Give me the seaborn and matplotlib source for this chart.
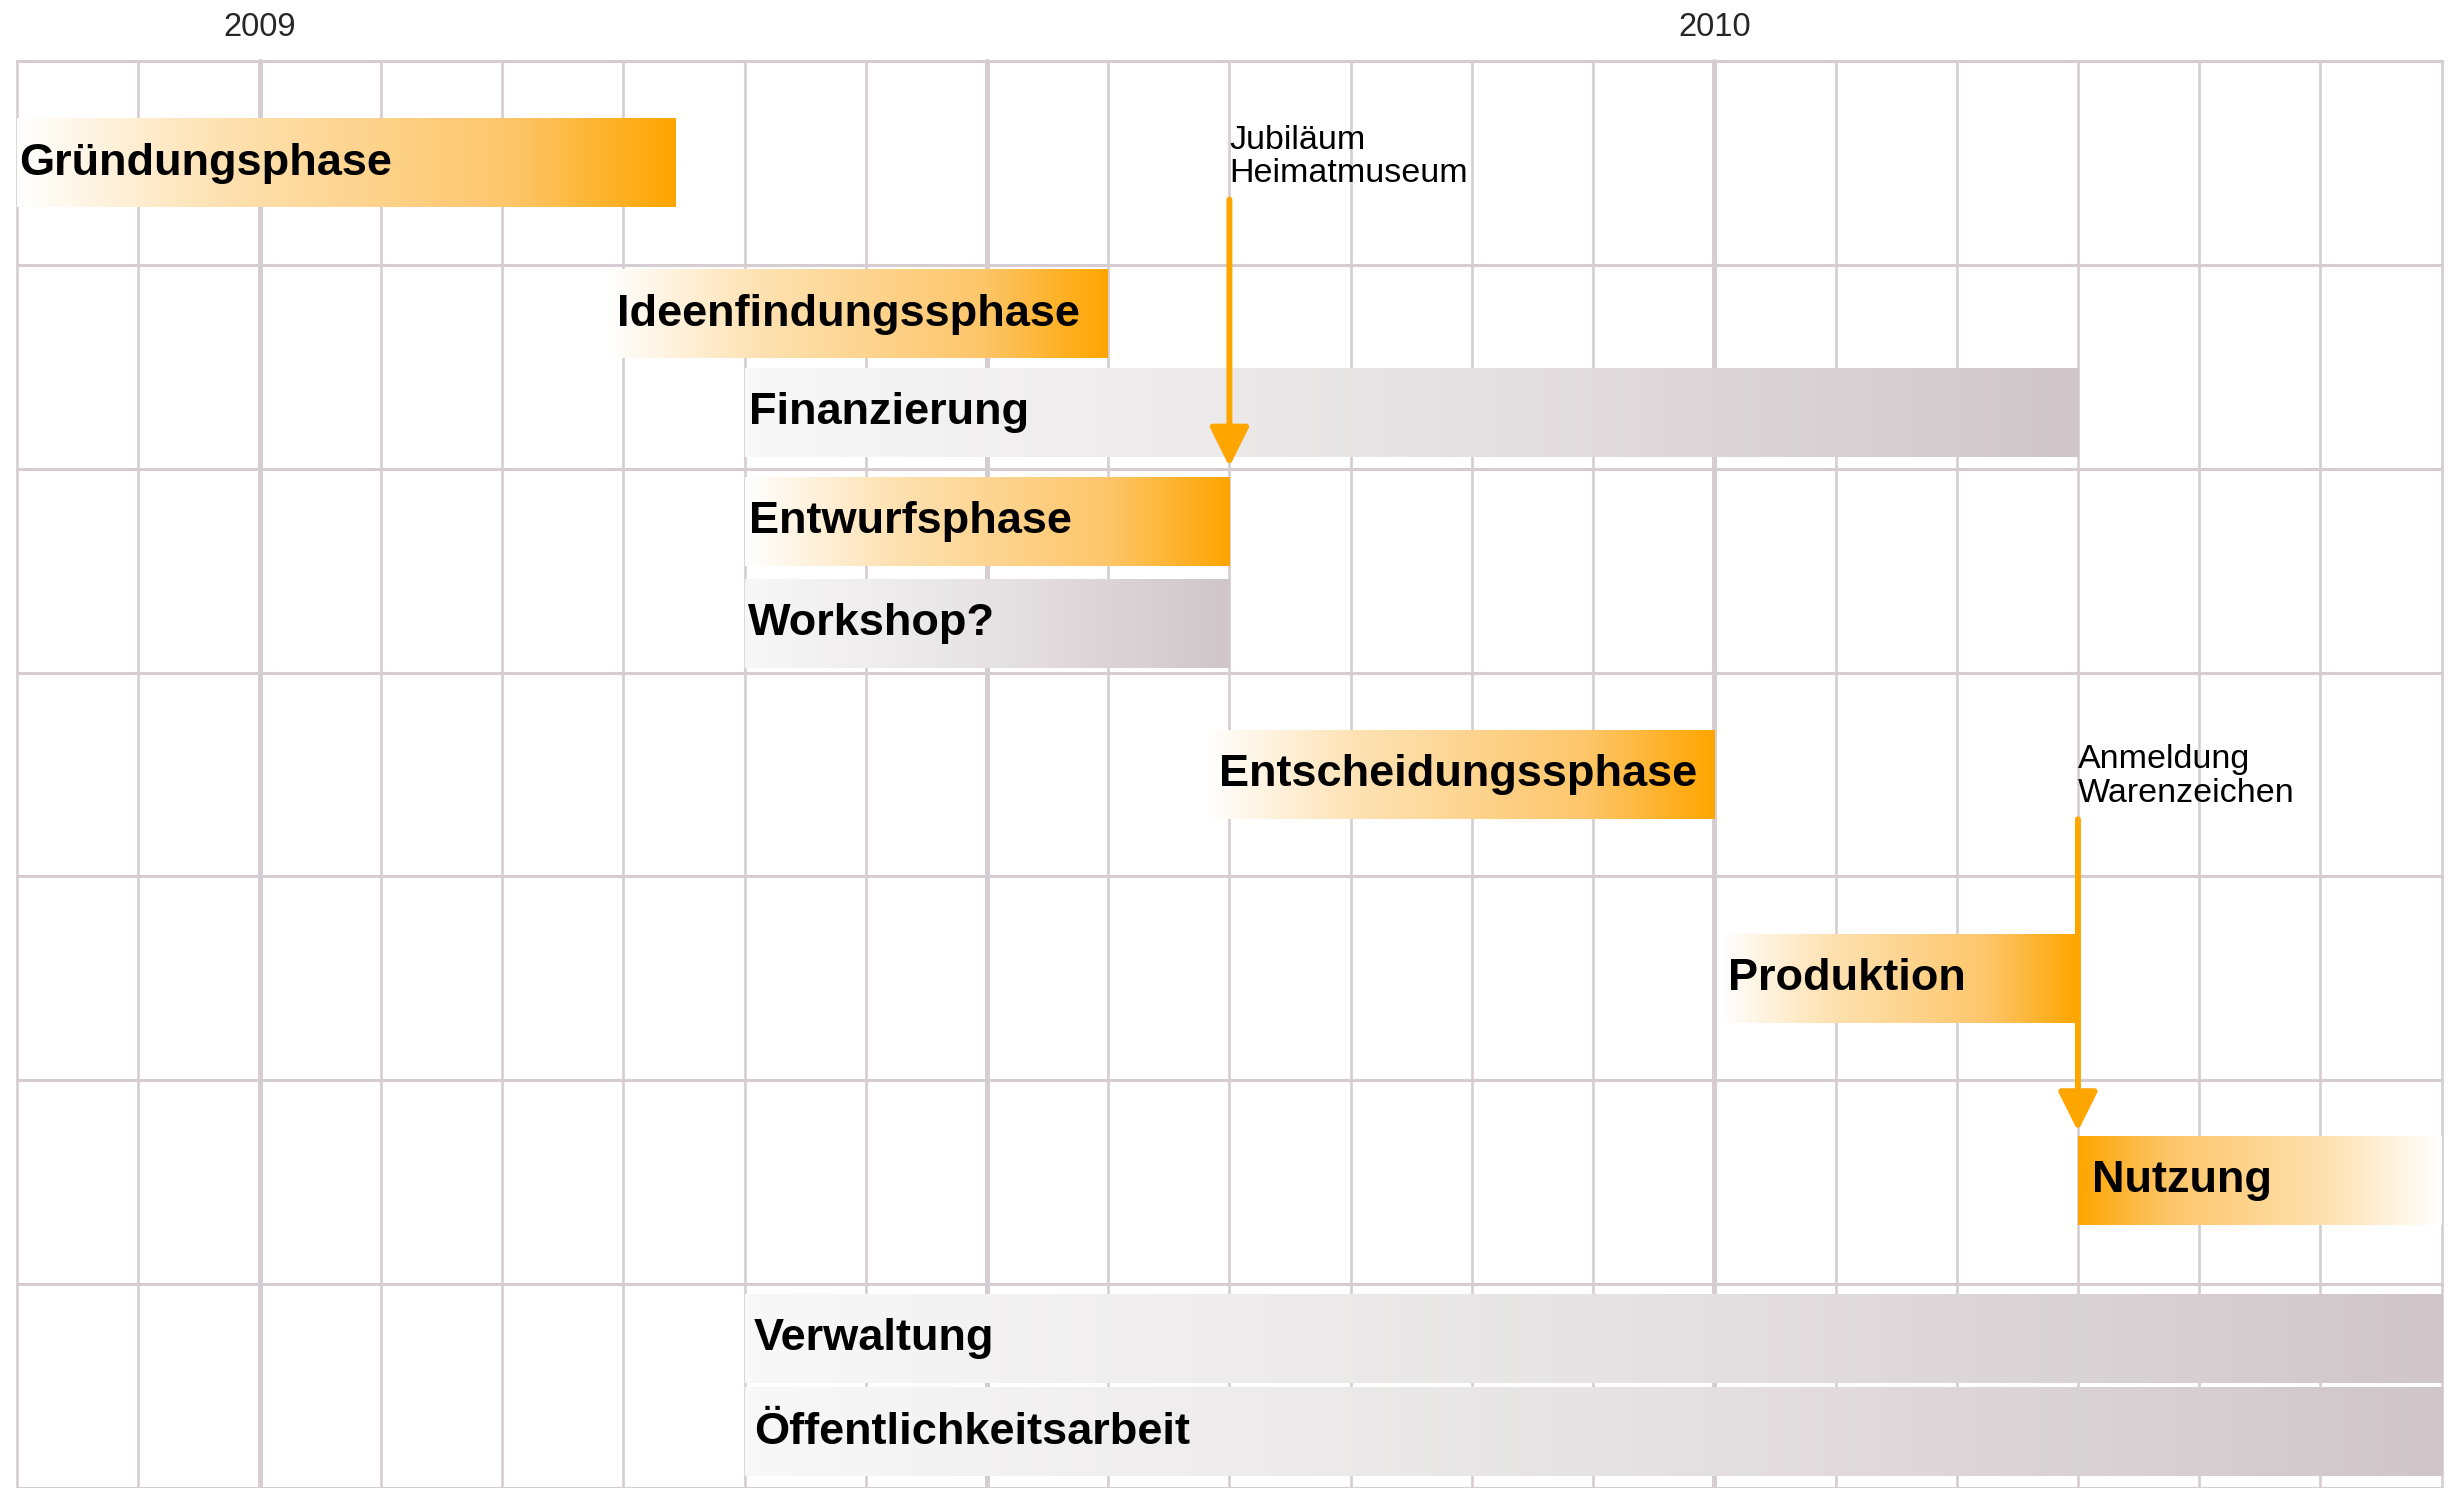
import numpy as np
import matplotlib.pyplot as plt
import seaborn as sns
from matplotlib.colors import LinearSegmentedColormap

sns.set_theme(style="white")
plt.rcParams['font.family'] = ['Liberation Sans', 'DejaVu Sans']

# months counted from Jan 2009 = 0
phases = ["Gründungsphase", "Ideenfindungssphase", "Finanzierung", "Entwurfsphase",
          "Workshop?", "Entscheidungssphase", "Produktion", "Nutzung",
          "Verwaltung", "Öffentlichkeitsarbeit"]
start = [-2, 2.86, 4, 4, 4, 7.8, 12.05, 15, 4, 4]
end = [3.43, 7.0, 15, 8, 8, 12, 15, 18, 18, 18]
row = [0.5, 1.24, 1.725, 2.26, 2.76, 3.5, 4.5, 5.49, 6.265, 6.725]
kind = ["orange", "orange", "grey", "orange", "grey", "orange", "orange",
        "orange_rev", "grey", "grey"]

ms_labels = ["Jubiläum\nHeimatmuseum", "Anmeldung\nWarenzeichen"]
ms_month = [8, 15]
ms_from = [0.68, 3.72]
ms_to = [1.99, 5.25]

year_ticks = [0, 12]
year_labels = ["2009", "2010"]
months = np.arange(-2, 19)
n_rows = 7

grid_col = "#d5cdd1"
orange = "#ffa500"

cmaps = {
    "orange": LinearSegmentedColormap.from_list(
        "o", [(0, "#ffffff"), (0.3, "#fee2b3"), (0.75, "#fdc66a"), (1, orange)]),
    "orange_rev": LinearSegmentedColormap.from_list(
        "or", [(0, orange), (0.25, "#fdc66a"), (0.7, "#fee2b3"), (1, "#ffffff")]),
    "grey": LinearSegmentedColormap.from_list(
        "g", [(0, "#f8f8f8"), (0.5, "#e7e3e4"), (1, "#d0c6ca")]),
}
label_off = [1, 7, 3, 3, 2, 9, 5, 9, 6, 6]

fig = plt.figure(figsize=(24.51, 14.88), dpi=100)
ax = fig.add_axes([11 / 1568, 0, 1551 / 1568, 1 - 39 / 952])

# grid
for m in months:
    thick = m in (0, 6, 12)
    ax.axvline(m, color=grid_col, lw=3.6 if thick else 1.9, zorder=1, clip_on=False)
for r in range(n_rows + 1):
    ax.axhline(r, color=grid_col, lw=2.2, zorder=1, clip_on=False)

# gradient bars
h = 0.435
grad = np.linspace(0, 1, 256).reshape(1, -1)
for lab, s, e, y, k, off in zip(phases, start, end, row, kind, label_off):
    ax.imshow(grad, extent=[s, e, y + h / 2, y - h / 2], cmap=cmaps[k],
              aspect="auto", interpolation="bilinear", zorder=2)
    ax.annotate(lab, xy=(s, y), xytext=(off * 1.12, -8.5), textcoords="offset points",
                va="baseline", ha="left", fontsize=32.5, fontweight="bold",
                color="black", zorder=4)

# milestones
for lab, x, y0, y1 in zip(ms_labels, ms_month, ms_from, ms_to):
    ax.annotate("", xy=(x, y1), xytext=(x, y0),
                arrowprops=dict(arrowstyle="-|>,head_length=0.8,head_width=0.4",
                                color=orange, lw=4.3, shrinkA=0, shrinkB=0,
                                mutation_scale=30), zorder=5)
    ax.text(x, y0 - 0.05, lab, ha="left", va="bottom", fontsize=24.5,
            linespacing=1.12, color="black", zorder=5)

ax.set_xlim(-2, 18)
ax.set_ylim(n_rows, 0)
ax.xaxis.tick_top()
ax.set_xticks(year_ticks)
ax.set_xticklabels(year_labels, fontsize=23.5)
ax.tick_params(axis="x", length=0, pad=13)
ax.set_yticks([])
sns.despine(ax=ax, left=True, bottom=True, top=True, right=True)

fig.savefig("out.png", dpi=100)
